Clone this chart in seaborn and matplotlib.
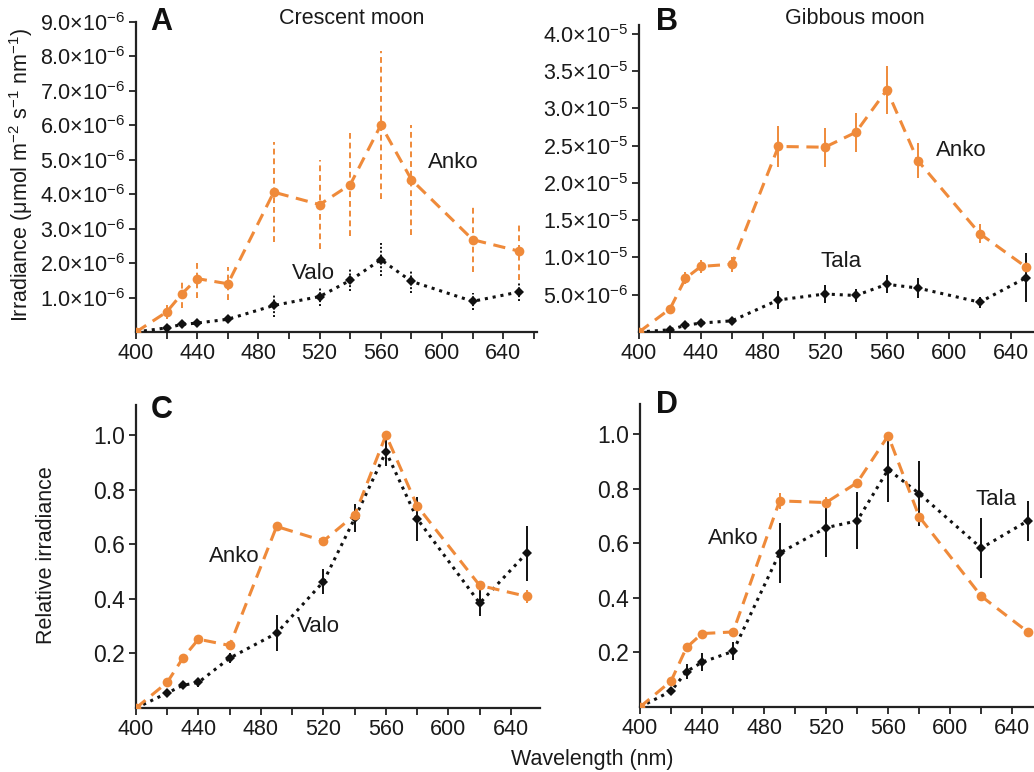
import numpy as np
import pandas as pd
import matplotlib
matplotlib.use("Agg")
import matplotlib.pyplot as plt
import seaborn as sns

sns.set_theme(style="ticks")
plt.rcParams['font.family'] = ['Liberation Sans', 'DejaVu Sans']
plt.rcParams['mathtext.fontset'] = 'custom'
plt.rcParams['mathtext.rm'] = 'Liberation Sans'
plt.rcParams['mathtext.it'] = 'Liberation Sans:italic'
plt.rcParams['mathtext.bf'] = 'Liberation Sans:bold'

# ---------------- data ----------------
wavelength = [400, 420, 430, 440, 460, 490, 520, 540, 560, 580, 620, 650]

# Panel A: crescent moon, absolute irradiance (umol m-2 s-1 nm-1)
anko_a = [0, 0.58e-6, 1.11e-6, 1.55e-6, 1.40e-6, 4.06e-6, 3.70e-6, 4.28e-6, 6.01e-6, 4.42e-6, 2.68e-6, 2.35e-6]
anko_a_err = [0, 0.2e-6, 0.4e-6, 0.55e-6, 0.48e-6, 1.45e-6, 1.3e-6, 1.5e-6, 2.15e-6, 1.6e-6, 0.95e-6, 0.85e-6]
valo_a = [0, 0.12e-6, 0.22e-6, 0.26e-6, 0.37e-6, 0.77e-6, 1.03e-6, 1.50e-6, 2.10e-6, 1.47e-6, 0.89e-6, 1.16e-6]
valo_a_err = [0, 0.05e-6, 0.07e-6, 0.08e-6, 0.1e-6, 0.32e-6, 0.28e-6, 0.32e-6, 0.48e-6, 0.33e-6, 0.25e-6, 0.27e-6]

# Panel B: gibbous moon, absolute irradiance
anko_b = [0, 3.1e-6, 7.2e-6, 8.8e-6, 9.1e-6, 24.9e-6, 24.8e-6, 26.8e-6, 32.5e-6, 23.0e-6, 13.2e-6, 8.7e-6]
anko_b_err = [0, 0.3e-6, 0.8e-6, 0.9e-6, 1.0e-6, 2.7e-6, 2.6e-6, 2.6e-6, 3.2e-6, 2.4e-6, 1.3e-6, 0.4e-6]
tala_b = [0, 0.3e-6, 0.9e-6, 1.2e-6, 1.5e-6, 4.3e-6, 5.1e-6, 4.9e-6, 6.4e-6, 5.9e-6, 4.0e-6, 7.3e-6]
tala_b_err = [0, 0.2e-6, 0.5e-6, 0.4e-6, 0.4e-6, 1.2e-6, 1.25e-6, 0.85e-6, 1.2e-6, 1.3e-6, 0.75e-6, 3.3e-6]

# Panel C: crescent moon, relative irradiance
anko_c = [0, 0.094, 0.183, 0.252, 0.229, 0.665, 0.612, 0.707, 1.0, 0.740, 0.449, 0.409]
anko_c_err = [0, 0.005, 0.008, 0.008, 0.008, 0.01, 0.01, 0.01, 0.0, 0.01, 0.01, 0.025]
valo_c = [0, 0.055, 0.083, 0.094, 0.183, 0.274, 0.463, 0.695, 0.939, 0.693, 0.384, 0.567]
valo_c_err = [0, 0.008, 0.012, 0.017, 0.018, 0.065, 0.045, 0.052, 0.053, 0.08, 0.048, 0.1]

# Panel D: gibbous moon, relative irradiance
anko_d = [0, 0.095, 0.218, 0.269, 0.275, 0.755, 0.749, 0.822, 0.994, 0.697, 0.406, 0.275]
anko_d_err = [0, 0.005, 0.008, 0.008, 0.008, 0.03, 0.02, 0.01, 0.0, 0.01, 0.005, 0.005]
tala_d = [0, 0.058, 0.13, 0.164, 0.204, 0.564, 0.657, 0.682, 0.870, 0.782, 0.582, 0.682]
tala_d_err = [0, 0.01, 0.027, 0.033, 0.033, 0.11, 0.106, 0.104, 0.12, 0.12, 0.11, 0.073]

ORANGE = '#EF8A3A'
BLACK = '#111111'
TEXTC = '#1a1a1a'

fig = plt.figure(figsize=(10.34, 7.72), dpi=100)
W, H = 1034, 772

def add_ax(l, r, t, b):
    return fig.add_axes([l / W, 1 - b / H, (r - l) / W, (b - t) / H])

axA = add_ax(136, 537, 22, 332)
axB = add_ax(639, 1034, 25, 332)
axC = add_ax(136, 540, 405, 708)
axD = add_ax(640, 1034, 404, 707)


def draw(ax, y1, e1, y2, e2, err_ls1='-', err_ls2='-'):
    df1 = pd.DataFrame({'wl': wavelength, 'v': y1})
    df2 = pd.DataFrame({'wl': wavelength, 'v': y2})
    for y, e, c, ls in [(y2, e2, BLACK, err_ls2), (y1, e1, ORANGE, err_ls1)]:
        _, _, bars = ax.errorbar(wavelength, y, yerr=e, fmt='none', ecolor=c,
                                 elinewidth=1.4, capsize=0, zorder=2)
        for b in bars:
            b.set_linestyle(ls)
    sns.lineplot(data=df2, x='wl', y='v', ax=ax, color=BLACK, linestyle=(0, (1, 1.6)),
                 linewidth=2.2, marker='D', markersize=5, markeredgewidth=0,
                 markerfacecolor=BLACK, zorder=3)
    sns.lineplot(data=df1, x='wl', y='v', ax=ax, color=ORANGE, linestyle=(0, (4, 2.5)),
                 linewidth=2.2, marker='o', markersize=7, markeredgewidth=0,
                 markerfacecolor=ORANGE, zorder=4)
    ax.set_xlabel('')
    ax.set_ylabel('')
    ax.set_xticks(np.arange(400, 641, 40))
    ax.set_xticks(np.arange(420, 661, 40), minor=True)
    ax.tick_params(axis='both', which='major', length=5, width=1.3,
                   color='#222222', labelcolor=TEXTC, pad=3)
    ax.tick_params(axis='x', which='minor', length=5, width=1.3, color='#222222')
    for s in ['top', 'right']:
        ax.spines[s].set_visible(False)
    for s in ['left', 'bottom']:
        ax.spines[s].set_linewidth(1.6)
        ax.spines[s].set_color('#222222')
    ax.set_xticklabels([str(v) for v in range(400, 641, 40)], fontsize=15.5)


def sci(v, exp):
    return r'$\mathregular{%.1f{\times}10^{%d}}$' % (v, exp)

# A
draw(axA, anko_a, anko_a_err, valo_a, valo_a_err, err_ls1=(0, (3, 2)), err_ls2=(0, (1, 1)))
axA.set_xlim(400, 662)
axA.set_ylim(0, 9.0e-6)
ya = np.arange(1, 10) * 1e-6
axA.set_yticks(ya)
axA.set_yticklabels([sci(v / 1e-6, -6) for v in ya], fontsize=15.5)

# B
draw(axB, anko_b, anko_b_err, tala_b, tala_b_err)
axB.set_xlim(400, 655)
axB.set_ylim(0, 4.12e-5)
yb = np.arange(1, 9) * 5e-6
axB.set_yticks(yb)
axB.set_yticklabels([sci(5.0, -6)] + [sci(v / 1e-5, -5) for v in yb[1:]], fontsize=15.5)

# C
draw(axC, anko_c, anko_c_err, valo_c, valo_c_err)
axC.set_xlim(400, 658.6)
axC.set_ylim(0, 1.11)
axC.set_yticks([0.2, 0.4, 0.6, 0.8, 1.0])
axC.set_yticklabels(['0.2', '0.4', '0.6', '0.8', '1.0'], fontsize=16.5)

# D
draw(axD, anko_d, anko_d_err, tala_d, tala_d_err)
axD.set_xlim(400, 654)
axD.set_ylim(0, 1.11)
axD.set_yticks([0.2, 0.4, 0.6, 0.8, 1.0])
axD.set_yticklabels(['0.2', '0.4', '0.6', '0.8', '1.0'], fontsize=16.5)

# series labels (data coordinates)
TXT = dict(fontsize=16, color=TEXTC, ha='left', va='center')
axA.text(591, 4.93e-6, 'Anko', **TXT)
axA.text(502, 1.71e-6, 'Valo', **TXT)
axB.text(592, 2.44e-5, 'Anko', **TXT)
axB.text(517, 9.4e-6, 'Tala', **TXT)
axC.text(447, 0.554, 'Anko', **TXT)
axC.text(503, 0.297, 'Valo', **TXT)
axD.text(444, 0.618, 'Anko', **TXT)
axD.text(616, 0.76, 'Tala', **TXT)

# panel letters and titles
LET = dict(fontsize=22, fontweight='bold', ha='left', va='center', color='#111111')
fig.text(150 / W, 1 - 22 / H, 'A', **LET)
fig.text(656 / W, 1 - 22 / H, 'B', **LET)
fig.text(151 / W, 1 - 410 / H, 'C', **LET)
fig.text(656 / W, 1 - 405 / H, 'D', **LET)
fig.text(352 / W, 1 - 18 / H, 'Crescent moon', fontsize=15.5, ha='center', va='center', color=TEXTC)
fig.text(855 / W, 1 - 18 / H, 'Gibbous moon', fontsize=15.5, ha='center', va='center', color=TEXTC)

# axis labels
fig.text(21 / W, 1 - 175 / H,
         r'Irradiance ($\mathregular{\mu}$mol m$^{-2}$ s$^{-1}$ nm$^{-1}$)',
         fontsize=15.5, rotation=90, ha='center', va='center', color=TEXTC)
fig.text(47 / W, 1 - 555 / H, 'Relative irradiance', fontsize=15.5, rotation=90,
         ha='center', va='center', color=TEXTC)
fig.text(592 / W, 1 - 760 / H, 'Wavelength (nm)', fontsize=15.5, ha='center', va='center',
         color=TEXTC)

fig.savefig('out.png', dpi=100)
